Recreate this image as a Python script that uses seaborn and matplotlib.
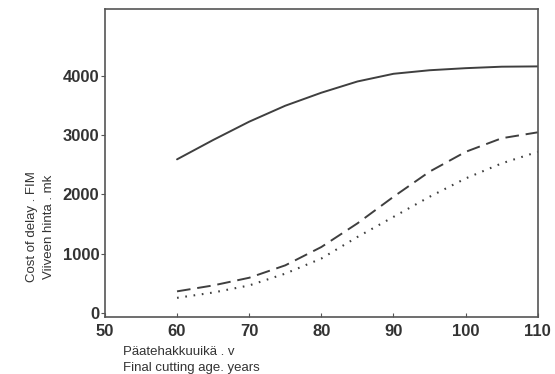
import matplotlib

matplotlib.use("Agg")

import matplotlib.pyplot as plt
import pandas as pd
import seaborn as sns

# final cutting age, years
age = [60, 65, 70, 75, 80, 85, 90, 95, 100, 105, 110]
# cost of delay, FIM
cost_solid = [2593, 2920, 3230, 3500, 3720, 3910, 4040, 4100, 4135, 4160, 4165]
cost_dashed = [360, 460, 590, 800, 1110, 1510, 1960, 2385, 2720, 2950, 3050]
cost_dotted = [250, 340, 460, 660, 915, 1280, 1620, 1960, 2270, 2525, 2720]

x_ticks = [50, 60, 70, 80, 90, 100, 110]
y_ticks = [0, 1000, 2000, 3000, 4000]

df = pd.DataFrame({"age": age, "solid": cost_solid, "dashed": cost_dashed, "dotted": cost_dotted})

sns.set_theme(style="white")
plt.rcParams["font.family"] = ["Liberation Sans", "DejaVu Sans"]

fig = plt.figure(figsize=(5.55, 3.74), dpi=100)
ax = fig.add_axes([0.189, 0.153, 0.78, 0.822])

line_color = "#3f3f3f"
sns.lineplot(data=df, x="age", y="solid", ax=ax, color=line_color, linewidth=1.4)
sns.lineplot(data=df, x="age", y="dashed", ax=ax, color=line_color, linewidth=1.4,
             linestyle=(0, (7, 3.5)))
sns.lineplot(data=df, x="age", y="dotted", ax=ax, color=line_color, linewidth=1.5,
             linestyle=(0, (0.8, 3.2)))

ax.set_xlim(50, 110)
ax.set_ylim(-70, 5130)
ax.set_xticks(x_ticks)
ax.set_yticks(y_ticks)
ax.set_xticklabels([str(t) for t in x_ticks], fontsize=12, fontweight="bold", color="#333333")
ax.set_yticklabels([str(t) for t in y_ticks], fontsize=12, fontweight="bold", color="#333333")
ax.tick_params(axis="x", direction="in", length=3, width=0.8, color="#555555", pad=5)
ax.tick_params(axis="y", direction="out", length=3, width=0.8, color="#555555", pad=1)
ax.tick_params(left=True, bottom=True)
for side in ax.spines.values():
    side.set_color("#555555")
    side.set_linewidth(1.2)

ax.set_xlabel("")
ax.set_ylabel("")

label_style = dict(fontsize=9.5, color="#333333")
fig.text(0.222, 0.058, "Päatehakkuuikä . v", va="center", **label_style)
fig.text(0.222, 0.016, "Final cutting age. years", va="center", **label_style)
fig.text(0.058, 0.393, "Cost of delay . FIM", rotation=90, ha="center", va="center", **label_style)
fig.text(0.088, 0.393, "Viiveen hinta . mk", rotation=90, ha="center", va="center", **label_style)

fig.savefig("out.png", dpi=100)
